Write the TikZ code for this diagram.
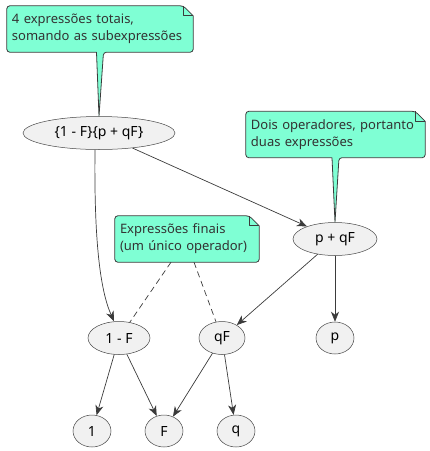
\documentclass[tikz,border=0pt]{standalone}
\usepackage{fontspec}
\setmainfont{Noto Sans}
\usetikzlibrary{shapes.geometric,arrows.meta,backgrounds}
\definecolor{notegreen}{HTML}{7FFFD4}
\definecolor{plantgray}{HTML}{181818}
\definecolor{nodegray}{HTML}{F1F1F1}
\begin{document}
\begin{tikzpicture}[x=1pt, y=-1pt,
	expr/.style={ellipse, fill=nodegray, draw=plantgray!80, line width=0.5pt, inner sep=0pt, minimum height=33pt, font=\fontsize{14}{16}\selectfont},
	link/.style={-{Stealth[length=10pt, width=8pt, inset=3pt]}, line width=0.7pt, color=plantgray!85},
	notebox/.style={inner xsep=5pt, inner ysep=0pt, align=left, minimum height=46pt, text=black!80, font=\fontsize{13}{17}\selectfont},
	noteline/.style={fill=notegreen, draw=plantgray!85, line width=0.8pt, line join=round},
	notelink/.style={line width=0.7pt, color=plantgray!85, dash pattern=on 6pt off 4pt}]
	\useasboundingbox (0,0) rectangle (430,451);

	\node[expr, minimum width=152pt](all) at (99,133){\{1 - F\}\{p + qF\}};
	\node[expr, minimum width=84pt](sum) at (335,239){p + qF};
	\node[expr, minimum width=62pt](diff) at (119,338){1 - F};
	\node[expr, minimum width=46pt](prod) at (222,338){qF};
	\node[expr, minimum width=38pt, minimum height=32pt](p) at (335,338){p};
	\node[expr, minimum width=38pt, minimum height=32pt](one) at (92,431){1};
	\node[expr, minimum width=38pt, minimum height=32pt](F) at (164,431){F};
	\node[expr, minimum width=38pt, minimum height=32pt](q) at (236,431){q};

	\node[notebox, text width=176pt](notetotal) at (100,29){4 expressões totais,\\somando as subexpressões};
	\node[notebox, text width=169pt](notesum) at (335.5,134.5){Dois operadores, portanto\\duas expressões};
	\node[notebox, text width=134pt](notefinal) at (187,239){Expressões finais\\(um único operador)};

	\begin{pgfonlayer}{background}
	\draw[noteline] ([xshift=-3.5pt]notetotal.south) [rounded corners=3pt] -- (notetotal.south west) -- (notetotal.north west) -- ([xshift=-10pt]notetotal.north east) [sharp corners] -- ([yshift=-10pt]notetotal.north east) [rounded corners=3pt] -- (notetotal.south east) -- ([xshift=3.5pt]notetotal.south) [sharp corners] -- (all.north) -- cycle;
	\draw[noteline] ([xshift=-3.5pt]notesum.south) [rounded corners=3pt] -- (notesum.south west) -- (notesum.north west) -- ([xshift=-10pt]notesum.north east) [sharp corners] -- ([yshift=-10pt]notesum.north east) [rounded corners=3pt] -- (notesum.south east) -- ([xshift=3.5pt]notesum.south) [sharp corners] -- (sum.north) -- cycle;
	\draw[noteline, rounded corners=3pt] (notefinal.south west) -- (notefinal.north west) -- ([xshift=-10pt]notefinal.north east) [sharp corners] -- ([yshift=-10pt]notefinal.north east) [rounded corners=3pt] -- (notefinal.south east) -- cycle;
	\end{pgfonlayer}
	\draw[noteline, fill=none] ([xshift=-10pt]notetotal.north east) -- ([xshift=-10pt, yshift=-10pt]notetotal.north east) -- ([yshift=-10pt]notetotal.north east);
	\draw[noteline, fill=none] ([xshift=-10pt]notesum.north east) -- ([xshift=-10pt, yshift=-10pt]notesum.north east) -- ([yshift=-10pt]notesum.north east);
	\draw[noteline, fill=none] ([xshift=-10pt]notefinal.north east) -- ([xshift=-10pt, yshift=-10pt]notefinal.north east) -- ([yshift=-10pt]notefinal.north east);

	\draw[link] ([xshift=-4pt]all.south) .. controls (94,240) and (100,290) .. ([xshift=-5pt]diff.north);
	\draw[link] (all) -- (sum);
	\draw[link] (sum) -- (prod);
	\draw[link] (sum) -- (p);
	\draw[link] (diff) -- (one);
	\draw[link] (diff) -- (F);
	\draw[link] (prod) -- (F);
	\draw[link] (prod) -- (q);

	\draw[notelink] ([xshift=-16pt]notefinal.south) -- (diff);
	\draw[notelink] ([xshift=7pt]notefinal.south) -- (prod);
\end{tikzpicture}
\end{document}
